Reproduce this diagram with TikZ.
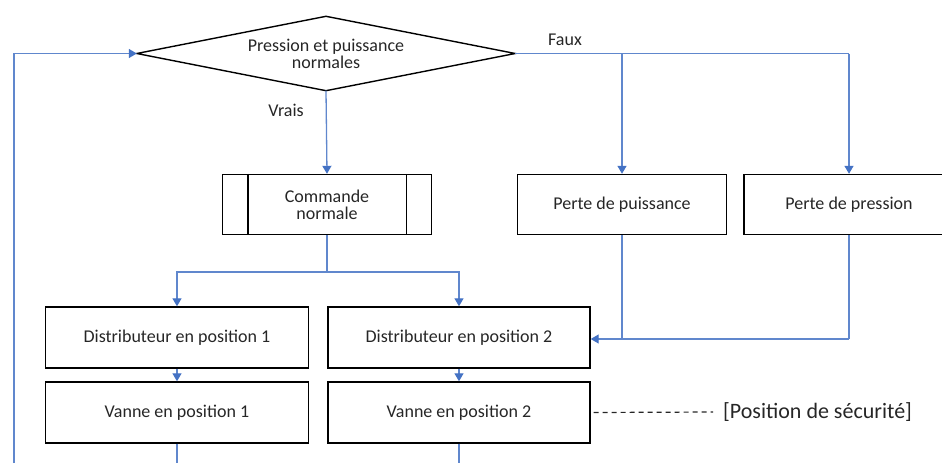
\documentclass[tikz,border=0pt]{standalone}
\usepackage{fontspec}
\setmainfont{Carlito}
\usetikzlibrary{shapes.geometric,arrows.meta}
\definecolor{linkblue}{HTML}{4472C4}
\definecolor{txtgray}{HTML}{262626}
\begin{document}
\begin{tikzpicture}[x=1pt,y=-1pt,
  conn/.style={draw=linkblue!85, line width=1.3pt},
  arr/.style={conn,-{Triangle[length=8pt,width=9pt,color=linkblue]}},
  box/.style={draw=black, line width=1.4pt, inner sep=0pt, align=center,
    font=\fontsize{18}{17}\selectfont, text=txtgray},
  dia/.style={inner sep=0pt, align=center, font=\fontsize{18}{17}\selectfont,
    text=txtgray, minimum width=378pt, minimum height=74pt},
  lbl/.style={font=\fontsize{18}{17}\selectfont, text=txtgray, inner sep=0pt}]
\useasboundingbox (0,0) rectangle (942,463);
\begin{scope}
\clip (0,0) rectangle (942,463);
% nodes
\node[dia] (d) at (326,53.5) {Pression et puissance\\normales};
\draw[line width=1.4pt, line join=miter] (d.west) -- (d.north) -- (d.east) -- (d.south) -- cycle;
\node[box, minimum width=209pt, minimum height=60pt] (cmd) at (327,204.5) {Commande\\normale};
\draw[line width=1.4pt] ([xshift=26pt]cmd.north west) -- ([xshift=26pt]cmd.south west);
\draw[line width=1.4pt] ([xshift=-26pt]cmd.north east) -- ([xshift=-26pt]cmd.south east);
\node[box, minimum width=209pt, minimum height=60pt] (pp) at (622,204.5) {Perte de puissance};
\node[box, minimum width=210pt, minimum height=60pt] (pr) at (849,204.5) {Perte de pression};
\node[box, minimum width=263pt, minimum height=61pt] (d1) at (177,337.5) {Distributeur en position 1};
\node[box, minimum width=262pt, minimum height=61pt] (d2) at (459,337.5) {Distributeur en position 2};
\node[box, minimum width=263pt, minimum height=61pt] (v1) at (177,412.5) {Vanne en position 1};
\node[box, minimum width=262pt, minimum height=61pt] (v2) at (459,412.5) {Vanne en position 2};
\node[lbl, anchor=west, font=\fontsize{22}{22}\selectfont] (sec) at (723,412) {[Position de sécurité]};
\node[lbl] (faux) at (565,40) {Faux};
\node[lbl] (vrais) at (286,110) {Vrais};
% helper coordinates
\coordinate (bot) at (14,463);
\coordinate (fj) at (849,53.5);
\coordinate (split) at (327,272);
\coordinate (mj) at (849,339);
\coordinate (v1b) at (177,463);
\coordinate (v2b) at (459,463);
\coordinate (dashend) at (713,412);
% connectors
\draw[arr] (bot) |- (d.west);
\draw[arr] (d.south) -- (cmd.north);
\draw[conn] (d.east) -- (fj);
\draw[arr] (pp.north |- fj) -- (pp.north);
\draw[arr] (fj) -- (pr.north);
\draw[conn] (cmd.south) -- (split);
\draw[arr] (split) -| (d1.north);
\draw[arr] (split) -| (d2.north);
\draw[arr] (d1.south) -- (v1.north);
\draw[arr] (d2.south) -- (v2.north);
\draw[conn] (v1.south) -- (v1b);
\draw[conn] (v2.south) -- (v2b);
\draw[conn] (pr.south) -- (mj);
\draw[conn] (pp.south) -- (pp.south |- mj);
\draw[arr] (mj) -- (d2.east |- mj);
\draw[black!85, line width=1.2pt, dash pattern=on 5pt off 4pt] ([xshift=3pt]v2.east) -- (dashend);
\end{scope}
\end{tikzpicture}
\end{document}
